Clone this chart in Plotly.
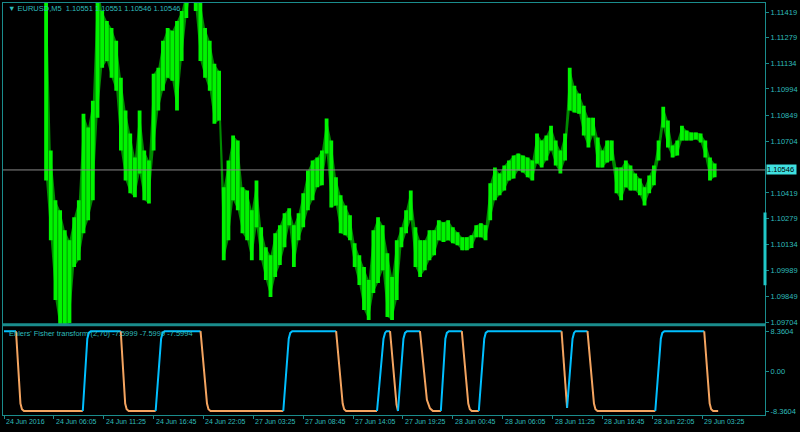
import plotly.graph_objects as go

# EURUSD M5, one sample every 6 bars (30 min), high / low
bar_idx = list(range(54, 913, 6))
price_high = [
    1.11645, 1.10653, 1.10378, 1.10323, 1.10213, 1.10158, 1.10284, 1.10378, 1.10857, 1.10780, 1.10929,
    1.11590, 1.11425, 1.11370, 1.11331, 1.11260, 1.11056, 1.10874, 1.10747, 1.10615, 1.10874,
    1.10653, 1.10598, 1.11078, 1.11111, 1.11260, 1.11331, 1.11315, 1.11370, 1.11425, 1.11535,
    1.11700, 1.11590, 1.11480, 1.11331, 1.11260, 1.11133, 1.11094, 1.10450, 1.10598, 1.10736,
    1.10709, 1.10450, 1.10433, 1.10323, 1.10488, 1.10229, 1.10119, 1.10075, 1.10196, 1.10240,
    1.10306, 1.10334, 1.10240, 1.10306, 1.10417, 1.10543, 1.10598, 1.10615, 1.10653, 1.10830,
    1.10709, 1.10505, 1.10406, 1.10350, 1.10295, 1.10141, 1.10075, 1.10009, 1.09937, 1.10213,
    1.10284, 1.10240, 1.10086, 1.09954, 1.10158, 1.10229, 1.10323, 1.10433, 1.10229, 1.10158,
    1.10158, 1.10213, 1.10213, 1.10268, 1.10257, 1.10268, 1.10229, 1.10202, 1.10174, 1.10174,
    1.10185, 1.10240, 1.10251, 1.10240, 1.10472, 1.10560, 1.10527, 1.10571, 1.10598, 1.10626,
    1.10637, 1.10626, 1.10615, 1.10598, 1.10747, 1.10709, 1.10736, 1.10791, 1.10709, 1.10653,
    1.10747, 1.11111, 1.11012, 1.10968, 1.10901, 1.10835, 1.10835, 1.10725, 1.10653, 1.10709,
    1.10709, 1.10560, 1.10560, 1.10598, 1.10571, 1.10527, 1.10499, 1.10450, 1.10516, 1.10571,
    1.10709, 1.10896, 1.10819, 1.10681, 1.10709, 1.10791, 1.10764, 1.10753, 1.10753, 1.10747,
    1.10709, 1.10615, 1.10582,
]
price_low = [
    1.10488, 1.10158, 1.09827, 1.09662, 1.09662, 1.09700, 1.10009, 1.10047, 1.10196, 1.10268, 1.10378,
    1.10835, 1.11111, 1.11149, 1.11056, 1.10984, 1.10653, 1.10488, 1.10417, 1.10395, 1.10527,
    1.10378, 1.10361, 1.10653, 1.10874, 1.10984, 1.11056, 1.11039, 1.10874, 1.11149, 1.11386,
    1.11535, 1.11425, 1.11149, 1.11056, 1.10984, 1.10802, 1.10819, 1.10047, 1.10158, 1.10378,
    1.10323, 1.10196, 1.10158, 1.10047, 1.10229, 1.10047, 1.09937, 1.09844, 1.09954, 1.10020,
    1.10119, 1.10240, 1.10009, 1.10158, 1.10229, 1.10323, 1.10378, 1.10450, 1.10461, 1.10637,
    1.10339, 1.10350, 1.10196, 1.10185, 1.10158, 1.10009, 1.09910, 1.09772, 1.09717, 1.09866,
    1.09921, 1.09992, 1.09733, 1.09717, 1.09827, 1.10119, 1.10196, 1.10268, 1.10009, 1.09954,
    1.09992, 1.10047, 1.10075, 1.10158, 1.10147, 1.10158, 1.10141, 1.10130, 1.10102, 1.10102,
    1.10114, 1.10174, 1.10174, 1.10158, 1.10268, 1.10378, 1.10406, 1.10433, 1.10488, 1.10499,
    1.10543, 1.10532, 1.10505, 1.10488, 1.10582, 1.10560, 1.10598, 1.10653, 1.10571, 1.10527,
    1.10598, 1.10874, 1.10863, 1.10857, 1.10736, 1.10670, 1.10736, 1.10560, 1.10560, 1.10587,
    1.10598, 1.10417, 1.10378, 1.10450, 1.10433, 1.10433, 1.10406, 1.10350, 1.10417, 1.10461,
    1.10598, 1.10780, 1.10670, 1.10615, 1.10626, 1.10709, 1.10709, 1.10709, 1.10714, 1.10698,
    1.10615, 1.10488, 1.10505,
]
assert len(bar_idx) == len(price_high) == len(price_low)

last_price = 1.10546
price_ticks = [1.11419, 1.11279, 1.11134, 1.10994, 1.10849, 1.10704,
               1.10419, 1.10279, 1.10134, 1.09989, 1.09849, 1.09704]

# Ehlers' Fisher transform, corner points of the line
fisher_bar = [0, 15.4, 21.1, 23.0, 25.6, 101.1, 106.9, 108.8, 111.4, 149.8, 155.5, 157.4, 160,
              194.6, 201.6, 203.5, 206.1, 252.2, 260.5, 262.4, 265, 358.4, 365.4, 367.4, 369.9,
              426.2, 434.6, 436.5, 439, 478.7, 487, 489, 490.9, 495.4, 503.7, 505.6, 512.6, 514.6,
              517.1, 533.8, 542.7, 546.6, 550.4, 560.6, 566.4, 568.3, 570.9, 587.5, 595.8, 597.8,
              600.3, 609.3, 616.3, 618.2, 620.8, 715.5, 722.6, 729.6, 731.5, 733.4, 748.8, 757.1,
              759, 761.6, 835.8, 842.9, 844.8, 847.4, 898.6, 905.6, 907.5, 910.1, 916.5]
fisher_val = [8.3604, 8.3604, -6.8, -8.0, -8.3604, -8.3604, 6.8, 8.0, 8.3604, 8.3604, -6.8, -8.0, -8.3604,
              -8.3604, 6.8, 8.0, 8.3604, 8.3604, -6.8, -8.0, -8.3604, -8.3604, 6.8, 8.0, 8.3604,
              8.3604, -6.8, -8.0, -8.3604, -8.3604, 6.8, 8.0, 8.3604, 8.3604, -7.0, -8.3604, 6.8, 8.0,
              8.3604, 8.3604, -6.0, -7.8, -8.3604, -8.3604, 6.8, 8.0, 8.3604, 8.3604, -6.8, -8.0,
              -8.3604, -8.3604, 6.8, 8.0, 8.3604, 8.3604, -7.7, 6.8, 8.0, 8.3604, 8.3604, -6.8,
              -8.0, -8.3604, -8.3604, 6.8, 8.0, 8.3604, 8.3604, -6.8, -8.0, -8.3604, -8.3604]
assert len(fisher_bar) == len(fisher_val)
fisher_ticks = [8.3604, 0.0, -8.3604]
fisher_tick_text = ['8.3604', '0.00', '-8.3604']

time_ticks = [0, 64, 128, 192, 256, 320, 384, 448, 512, 576, 640, 704, 768, 832, 896]
time_labels = ['24 Jun 2016', '24 Jun 06:05', '24 Jun 11:25', '24 Jun 16:45', '24 Jun 22:05',
               '27 Jun 03:25', '27 Jun 08:45', '27 Jun 14:05', '27 Jun 19:25', '28 Jun 00:45',
               '28 Jun 06:05', '28 Jun 11:25', '28 Jun 16:45', '28 Jun 22:05', '29 Jun 03:25']

LINE = '#1a8c8c'
TXT = '#2fbcbc'
UP = '#00bfff'
DN = '#f4a460'
FONT = 'Liberation Sans'

fig = go.Figure()

# dark green range band under the bright bars gives the striped bar look
fig.add_trace(go.Scatter(x=bar_idx, y=price_high, mode='lines', line=dict(width=0, color='#008a00'),
                         xaxis='x', yaxis='y', hoverinfo='skip'))
fig.add_trace(go.Scatter(x=bar_idx, y=price_low, mode='lines', line=dict(width=0, color='#008a00'),
                         fill='tonexty', fillcolor='#008a00', xaxis='x', yaxis='y', hoverinfo='skip'))

# bright high-low bars drawn as vertical segments
seg_x, seg_y = [], []
for b, h, l in zip(bar_idx, price_high, price_low):
    seg_x += [b, b, None]
    seg_y += [l, h, None]
fig.add_trace(go.Scatter(x=seg_x, y=seg_y, mode='lines', line=dict(color='#00f400', width=3.8),
                         xaxis='x', yaxis='y', hoverinfo='skip'))

# split the fisher line in runs: rising -> blue, falling -> orange, flat keeps colour
runs = []
going_up = True
cur = None
for k in range(len(fisher_bar) - 1):
    v0, v1 = fisher_val[k], fisher_val[k + 1]
    if v1 > v0:
        going_up = True
    elif v1 < v0:
        going_up = False
    if cur is None or cur[0] != going_up:
        cur = [going_up, [fisher_bar[k]], [v0]]
        runs.append(cur)
    cur[1].append(fisher_bar[k + 1])
    cur[2].append(v1)

for up, xs, ys in runs:
    fig.add_trace(go.Scatter(x=xs, y=ys, mode='lines', line=dict(color=UP if up else DN, width=2),
                             xaxis='x2', yaxis='y2', hoverinfo='skip'))

xr = [-1.3, 976.6]
common = dict(showgrid=False, zeroline=False, showline=True, mirror=True, linecolor=LINE, linewidth=1)
fig.update_layout(
    width=800, height=432, margin=dict(l=2, r=34, t=2, b=17),
    paper_bgcolor='black', plot_bgcolor='black', showlegend=False,
    font=dict(family=FONT, size=7.5, color=TXT),
    xaxis=dict(domain=[0, 1], anchor='y', range=xr, showticklabels=False, ticks='', **common),
    yaxis=dict(domain=[0.2203, 1], anchor='x', range=[1.09693, 1.11469], side='right',
               tickvals=price_ticks, ticktext=[f'{v:.5f}' for v in price_ticks],
               ticks='outside', ticklen=3, tickcolor=LINE, **common),
    xaxis2=dict(domain=[0, 1], anchor='y2', range=xr, matches='x', tickvals=time_ticks,
                showticklabels=False, ticks='outside', ticklen=3, tickcolor=LINE, **common),
    yaxis2=dict(domain=[0, 0.2179], anchor='x2', range=[-9.196, 9.614], side='right',
                tickvals=fisher_ticks, ticktext=fisher_tick_text,
                ticks='outside', ticklen=3, tickcolor=LINE, **common),
)

fig.add_shape(type='line', xref='paper', x0=0, x1=1, yref='y', y0=last_price, y1=last_price,
              line=dict(color='#8a8a8a', width=1))
fig.add_shape(type='line', xref='paper', x0=1, x1=1, yref='y', y0=1.09909, y1=1.10311,
              line=dict(color='#20c8c8', width=3))
# thick separator between the two windows
fig.add_shape(type='line', xref='paper', x0=0, x1=1, yref='paper', y0=0.2191, y1=0.2191,
              line=dict(color=LINE, width=3))

ann = []
ann.append(dict(xref='paper', yref='paper', x=0.004, y=0.9855, xanchor='left', yanchor='middle',
                text='▼ EURUSD,M5&nbsp; 1.10551 1.10551 1.10546 1.10546', showarrow=False))
ann.append(dict(xref='paper', yref='paper', x=0.005, y=0.1985, xanchor='left', yanchor='middle',
                text="Ehlers' Fisher transform (2,70) -7.5999 -7.5999 -7.5994", showarrow=False))
ann.append(dict(xref='paper', yref='y', x=1, y=last_price, xanchor='left', yanchor='middle', xshift=1,
                text='1.10546&nbsp;', bgcolor='#40e0e0', font=dict(color='black', size=7.5), borderpad=0,
                showarrow=False))
for t, lab in zip(time_ticks, time_labels):
    ann.append(dict(xref='x2', yref='paper', x=t, y=-0.0169, xanchor='left', yanchor='middle',
                    text=lab, showarrow=False, font=dict(size=7)))
fig.update_layout(annotations=ann)

fig.write_html('out.html', config={'displayModeBar': False},
               post_script="document.body.style.margin='0';")
